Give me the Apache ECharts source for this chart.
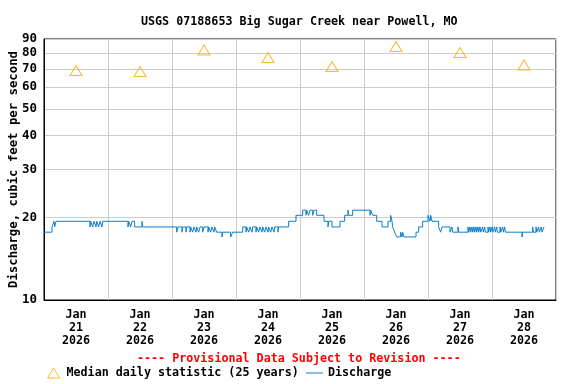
<!DOCTYPE html>
<html><head><meta charset="utf-8">
<script src="https://cdn.jsdelivr.net/npm/echarts@6/dist/echarts.min.js"></script>
<style>html,body{margin:0;padding:0;background:#fff}#c{width:576px;height:384px}</style>
</head><body><div id="c"></div>
<script>
// Day labels (centered at noon of each day)
const dayLabels = ['Jan\n21\n2026','Jan\n22\n2026','Jan\n23\n2026','Jan\n24\n2026','Jan\n25\n2026','Jan\n26\n2026','Jan\n27\n2026','Jan\n28\n2026'];
// Median daily statistic (25 years), cfs
const medianValues = [69, 68.5, 82, 77, 71.4, 84.5, 80.3, 72.3];
// Y tick labels (log scale)
const yTicks = [10, 20, 30, 40, 50, 60, 70, 80, 90];
// Discharge: change points, hours since Jan 21 00:00, and value (cfs) held from that time
const dischargeHours = [0,3,3.75,4,4.5,17.25,17.5,18.25,18.75,19.5,19.75,20.5,21,21.75,22,31.5,31.75,32.5,33,34,36.75,37,
49.75,50.25,51.75,52,53.25,53.5,54.75,55,55.75,56.25,57,57.25,58,58.5,59.5,60,61.5,61.75,62.5,63,63.75,64,64.75,66.75,67,70,70.75,
74.5,75.75,76,76.75,77.25,78,78.25,79.5,79.75,80.5,81,81.75,82,82.75,83.25,84,84.25,85,85.5,86.25,86.5,87.75,88,
91.75,94.5,97,98.25,98.5,99.25,99.75,100.75,101.25,102.25,105,106.5,106.75,108,111,112.75,114,114.25,115.75,122.25,122.5,123.25,124.75,126.75,
129,130,130.5,130.75,131.5,132.25,133.75,134.25,134.5,135,139.5,140.5,142,144,144.75,145,145.5,148,148.75,149.25,152.25,153,153.25,155.25,155.5,
159,159.25,159.75,160,160.5,160.75,161.25,161.5,162,162.25,162.75,163,163.5,163.75,164.5,164.75,165.25,165.5,166.5,166.75,167.25,167.5,168,168.25,
169,169.25,169.75,170,171,171.25,172,172.25,172.75,173,179.25,179.5,183.25,183.5,184.5,184.75,185.5,185.75,186.5,186.75,187.5,187.75];
const dischargeValues = [17.7,18.5,19.4,18.5,19.4,18.5,19.4,18.5,19.4,18.5,19.4,18.5,19.4,18.5,19.4,18.5,19.4,18.5,19.4,18.5,19.4,18.5,
17.7,18.5,17.7,18.5,17.7,18.5,17.7,18.5,17.7,18.5,17.7,18.5,17.7,18.5,17.7,18.5,17.7,18.5,17.7,18.5,17.7,18.5,17.7,17.0,17.7,17.0,17.7,
18.5,17.7,18.5,17.7,18.5,17.7,18.5,17.7,18.5,17.7,18.5,17.7,18.5,17.7,18.5,17.7,18.5,17.7,18.5,17.7,18.5,17.7,18.5,
19.4,20.4,21.3,20.4,21.3,20.4,21.3,20.4,21.3,20.4,19.4,18.5,19.4,18.5,19.4,20.4,21.3,20.4,21.3,20.4,21.3,20.4,19.4,18.5,
19.4,20.4,19.4,18.5,17.7,17.0,17.7,17.0,17.7,17.0,17.7,18.5,19.4,20.4,19.4,20.4,19.4,18.5,17.7,18.5,17.7,18.5,17.7,18.5,17.7,
18.5,17.7,18.5,17.7,18.5,17.7,18.5,17.7,18.5,17.7,18.5,17.7,18.5,17.7,18.5,17.7,18.5,17.7,18.5,17.7,18.5,17.7,18.5,17.7,
18.5,17.7,18.5,17.7,18.5,17.7,18.5,17.7,18.5,17.7,17.0,17.7,18.5,17.7,18.5,17.7,18.5,17.7,18.5,17.7,18.5,18.5];

const FONT = '"DejaVu Sans Mono", monospace';
const dischargeData = dischargeHours.map((h, i) => [h, dischargeValues[i]]);
const chart = echarts.init(document.getElementById('c'), null, {renderer: 'canvas'});
chart.setOption({
  animation: false,
  backgroundColor: '#fff',
  title: [{
    text: 'USGS 07188653 Big Sugar Creek near Powell, MO',
    left: 136, top: 11,
    textStyle: {fontFamily: FONT, fontWeight: 'bold', fontSize: 11.7, color: '#000'}
  }, {
    text: '---- Provisional Data Subject to Revision ----',
    left: 132, top: 348,
    textStyle: {fontFamily: FONT, fontWeight: 'bold', fontSize: 11.7, color: '#ff0000'}
  }],
  legend: [{
    data: [{name: 'Median daily statistic (25 years)', icon: 'triangle',
      itemStyle: {color: 'rgba(0,0,0,0)', borderColor: '#ffa500', borderWidth: 1}}],
    left: 42, top: 362, itemWidth: 12, itemHeight: 10, itemGap: 5,
    textStyle: {fontFamily: FONT, fontWeight: 'bold', fontSize: 11.7, color: '#000', padding: [0,0,0,2]}
  }, {
    data: [{name: 'Discharge', icon: 'rect', itemStyle: {color: '#0b7dd0'}}],
    left: 301, top: 362, itemWidth: 17, itemHeight: 1,
    textStyle: {fontFamily: FONT, fontWeight: 'bold', fontSize: 11.7, color: '#000'}
  }],
  grid: {left: 44, right: 20, top: 39, bottom: 84, show: true, borderColor: '#000', borderWidth: 1,
    containLabel: false, outerBoundsMode: 'none'},
  xAxis: [{
    type: 'value', min: 0, max: 192, interval: 24,
    axisLine: {show: true, lineStyle: {color: '#000'}},
    axisTick: {show: false}, axisLabel: {show: false},
    splitLine: {show: true, lineStyle: {color: '#cccccc', width: 1}}
  }, {
    type: 'category', data: dayLabels, boundaryGap: true, position: 'bottom',
    axisLine: {show: false}, axisTick: {show: false},
    splitLine: {show: false},
    axisLabel: {interval: 0, margin: 8, lineHeight: 13, fontFamily: FONT, fontWeight: 'bold', fontSize: 11.7, color: '#000'}
  }],
  yAxis: {
    type: 'log', logBase: 10, min: 10, max: 90,
    name: 'Discharge, cubic feet per second', nameLocation: 'middle', nameGap: 24, nameMoveOverlap: false,
    nameTextStyle: {fontFamily: FONT, fontWeight: 'bold', fontSize: 12.3, color: '#000'},
    axisLine: {show: true, lineStyle: {color: '#000'}},
    axisTick: {show: false, customValues: yTicks},
    axisLabel: {customValues: yTicks, margin: 7, fontFamily: FONT, fontWeight: 'bold', fontSize: 12.5, color: '#000', formatter: v => String(Math.round(v))},
    splitLine: {show: true, lineStyle: {color: '#cccccc', width: 1}}
  },
  series: [{
    name: 'Median daily statistic (25 years)', type: 'scatter', xAxisIndex: 1,
    data: medianValues, symbol: 'triangle', symbolSize: [12, 10],
    itemStyle: {color: 'rgba(0,0,0,0)', borderColor: '#ffa500', borderWidth: 1}
  }, {
    name: 'Discharge', type: 'line', xAxisIndex: 0, data: dischargeData,
    step: 'end', symbol: 'none', showSymbol: false,
    lineStyle: {color: '#0b7dd0', width: 1}, itemStyle: {color: '#0b7dd0'}
  }]
});
</script></body></html>
